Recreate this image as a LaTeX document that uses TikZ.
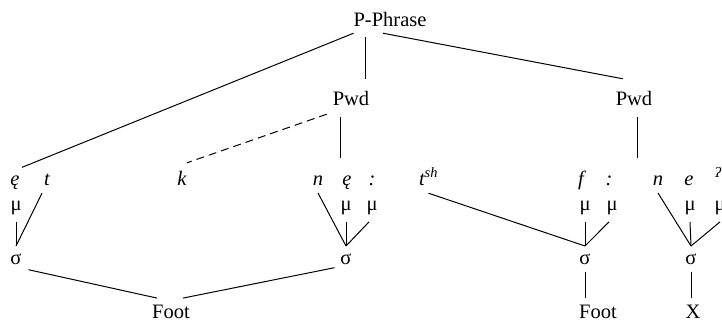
\documentclass[tikz,border=0pt]{standalone}
\usepackage{fontspec}
\setmainfont{Liberation Serif}
\usepackage{tikz}
\usetikzlibrary{positioning}
\newcommand\treefont{\fontsize{20.5}{24}\selectfont}
\tikzset{
  lbl/.style={inner sep=0pt, outer sep=0pt, anchor=base, font=\treefont},
  seg/.style={lbl, font=\treefont\itshape, outer ysep=8pt},
  mora/.style={lbl, outer ysep=7.5pt},
  syl/.style={lbl, outer ysep=7.5pt},
  cat/.style={lbl, outer ysep=12pt},
  top/.style={lbl, outer ysep=7pt},
  ft/.style={lbl, outer ysep=6.5pt},
  tie/.style={line width=1pt},
  weak/.style={tie, dash pattern=on 8pt off 5pt}
}

\begin{document}
\begin{tikzpicture}[x=1pt,y=-1pt]
\useasboundingbox (0,0) rectangle (722,322);
%% row baselines
	\newcommand \toprow{26}
	\newcommand \pwdrow{105}
	\newcommand \segrow{185}
	\newcommand \morarow{210}
	\newcommand \sylrow{264}
	\newcommand \footrow{318}

%% phrase and words
\node[top] (pp) at (390,\toprow) {P-Phrase};
\node[cat] (pwdA) at (351,\pwdrow) {Pwd};
\node[cat] (pwdB) at (634,\pwdrow) {Pwd};

%% segments
\node[seg] (e1) at (15,\segrow) {ę};
\node[seg] (t1) at (47,\segrow) {t};
\node[seg] (k) at (182,\segrow) {k};
\node[seg] (n1) at (318,\segrow) {n};
\node[seg] (e2) at (347,\segrow) {ę};
\node[seg] (len1) at (372,\segrow) {:};
\node[seg,anchor=base west] (tsh) at (419,\segrow) {t\textsuperscript{sh}};
\node[seg] (f) at (581,\segrow) {f};
\node[seg] (len2) at (609,\segrow) {:};
\node[seg] (n2) at (658,\segrow) {n};
\node[seg] (e3) at (689,\segrow) {e};
\node[seg,anchor=base west] (q) at (715,\segrow) {\textsuperscript{ʔ}};

%% moras
\node[mora] (mu1) at (16,\morarow) {μ};
\node[mora] (mu2) at (346,\morarow) {μ};
\node[mora] (mu3) at (372,\morarow) {μ};
\node[mora] (mu4) at (585,\morarow) {μ};
\node[mora] (mu5) at (612,\morarow) {μ};
\node[mora] (mu6) at (690,\morarow) {μ};
\node[mora] (mu7) at (720,\morarow) {μ};

%% syllables
\node[syl] (s1) at (16,\sylrow) {σ};
\node[syl] (s2) at (346,\sylrow) {σ};
\node[syl] (s3) at (585,\sylrow) {σ};
\node[syl] (s4) at (691,\sylrow) {σ};

%% feet
\node[ft] (foot1) at (171,\footrow) {Foot};
\node[ft] (foot2) at (598,\footrow) {Foot};
\node[ft] (xx) at (693,\footrow) {X};

%% upper links
\draw[tie] (pp.south west) -- ([xshift=7pt]e1.north);
\draw[tie] ([xshift=14pt]pwdA.north) -- ([xshift=14pt,yshift=-4pt]pwdA.north |- pp.south);
\draw[tie] ([xshift=-7pt]pp.south) -- ([xshift=7pt]pwdB.north west);
\draw[weak] ([xshift=-6pt,yshift=3pt]pwdA.south west) -- ([xshift=5pt]k.north);
\draw[tie] ([xshift=-11pt]pwdA.south) -- ([xshift=-11pt,yshift=-41pt]pwdA.south);
\draw[tie] ([xshift=3pt]pwdB.south) -- ([xshift=3pt,yshift=-41pt]pwdB.south);

%% syllable links
\draw[tie] ([xshift=-5pt]t1.south) -- (s1.north);
\draw[tie] (mu1.south) -- (s1.north);
\draw[tie] (n1.south) -- (s2.north);
\draw[tie] (mu2.south) -- (s2.north);
\draw[tie] ([xshift=-3pt]mu3.south) -- (s2.north);
\draw[tie] (tsh.south) -- (s3.north);
\draw[tie] (mu4.south) -- (s3.north);
\draw[tie] ([xshift=-3pt]mu5.south) -- (s3.north);
\draw[tie] (n2.south) -- (s4.north);
\draw[tie] (mu6.south) -- (s4.north);
\draw[tie] (mu7.south) -- (s4.north);

%% foot links
\draw[tie] ([xshift=7pt,yshift=2pt]s1.south east) -- ([xshift=-14pt]foot1.north);
\draw[tie] ([xshift=12pt]foot1.north) -- ([xshift=-6pt,yshift=4pt]s2.south west);
\draw[tie] (s3.south) -- (s3.south |- foot2.north);
\draw[tie] (s4.south) -- (s4.south |- xx.north);
\end{tikzpicture}
\end{document}
